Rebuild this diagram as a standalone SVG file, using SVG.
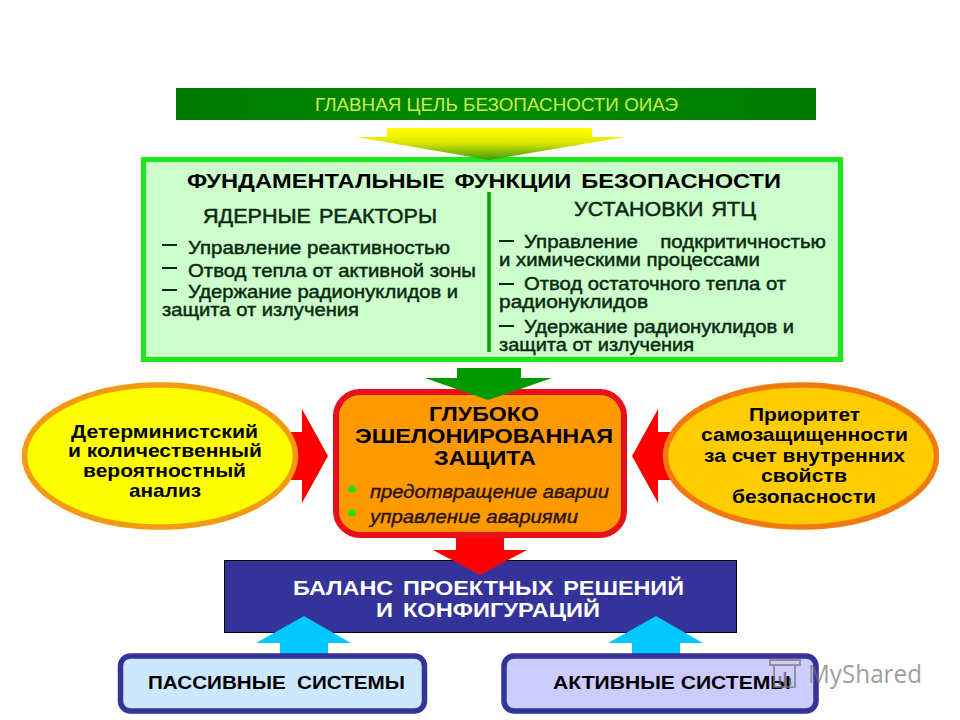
<svg xmlns="http://www.w3.org/2000/svg" width="960" height="720" viewBox="0 0 960 720">
<style>
text{font-family:"Liberation Sans",Arial,sans-serif;fill:#000}
.li{font-size:17.500px;fill:#0a2a10;stroke:#0a2a10;stroke-width:.45px}
.ov{font-size:19px;font-weight:bold}
.hd{font-size:21px;font-weight:bold;word-spacing:3px}
.sub{font-size:20.500px;fill:#0a2a10;stroke:#0a2a10;stroke-width:.5px;word-spacing:2px}
.it{font-size:18px;font-style:italic;fill:#2a1400;stroke:#2a1400;stroke-width:.4px}
.dash{stroke:#0a2a10;stroke-width:2;fill:none}
</style>
<defs>
<linearGradient id="yg" x1="0" y1="0" x2="0" y2="1"><stop offset="0" stop-color="#ffff00"/><stop offset=".45" stop-color="#e0e800"/><stop offset="1" stop-color="#3d9a10"/></linearGradient>
<linearGradient id="gg" x1="0" y1="0" x2="1" y2="0"><stop offset="0" stop-color="#007a00"/><stop offset=".5" stop-color="#008c00"/><stop offset="1" stop-color="#007a00"/></linearGradient>
</defs>
<rect width="960" height="720" fill="#fff"/>

<g id="goal">
<rect x="176" y="88" width="640" height="32" fill="url(#gg)"/>
<text x="315" y="111" font-size="18" style="fill:#c8ee50" textLength="363" lengthAdjust="spacingAndGlyphs">ГЛАВНАЯ ЦЕЛЬ БЕЗОПАСНОСТИ ОИАЭ</text>
</g>

<g id="functions">
<rect x="143.500" y="159.500" width="697" height="200" fill="#ccffcc" stroke="#1be81b" stroke-width="5"/>
<text x="187" y="188" class="hd" textLength="594" lengthAdjust="spacingAndGlyphs">ФУНДАМЕНТАЛЬНЫЕ ФУНКЦИИ БЕЗОПАСНОСТИ</text>
<text x="203" y="223" class="sub" textLength="234" lengthAdjust="spacingAndGlyphs">ЯДЕРНЫЕ РЕАКТОРЫ</text>
<text x="574" y="216" class="sub" textLength="182" lengthAdjust="spacingAndGlyphs">УСТАНОВКИ ЯТЦ</text>
<path d="M489 192V352" stroke="#00a000" stroke-width="3.500" fill="none"/>
<path class="dash" d="M162 245h15M162 268h15M162 290h15M499 241h15M499 284h15M499 326h15"/>
<text class="li" x="188" y="254" textLength="262" lengthAdjust="spacingAndGlyphs">Управление реактивностью</text>
<text class="li" x="188" y="277" textLength="288" lengthAdjust="spacingAndGlyphs">Отвод тепла от активной зоны</text>
<text class="li" x="188" y="298" textLength="270" lengthAdjust="spacingAndGlyphs">Удержание радионуклидов и</text>
<text class="li" x="162" y="316" textLength="197" lengthAdjust="spacingAndGlyphs">защита от излучения</text>
<text class="li" x="524" y="248" textLength="302" lengthAdjust="spacingAndGlyphs" style="word-spacing:14px">Управление подкритичностью</text>
<text class="li" x="499" y="266" textLength="261" lengthAdjust="spacingAndGlyphs">и химическими процессами</text>
<text class="li" x="524" y="290" textLength="262" lengthAdjust="spacingAndGlyphs">Отвод остаточного тепла от</text>
<text class="li" x="499" y="308" textLength="149" lengthAdjust="spacingAndGlyphs">радионуклидов</text>
<text class="li" x="524" y="333" textLength="270" lengthAdjust="spacingAndGlyphs">Удержание радионуклидов и</text>
<text class="li" x="499" y="351" textLength="195" lengthAdjust="spacingAndGlyphs">защита от излучения</text>
</g>

<g id="connectors">
<polygon points="387,128 592,128 592,137 625,137 489,160 356,137 387,137" fill="url(#yg)"/>
<polygon points="285,432 302,432 302,409 328,456 302,503 302,480 285,480" fill="#f00"/>
<polygon points="675,432 658,432 658,409 632,456 658,503 658,480 675,480" fill="#f00"/>
</g>

<g id="analysis">
<ellipse cx="160" cy="456" rx="135.500" ry="71" fill="#ffff00" stroke="#f29a12" stroke-width="5.500"/>
<text class="ov" x="71" y="438" textLength="187" lengthAdjust="spacingAndGlyphs">Детерминистский</text>
<text class="ov" x="68" y="457" textLength="194" lengthAdjust="spacingAndGlyphs">и количественный</text>
<text class="ov" x="83" y="477" textLength="163" lengthAdjust="spacingAndGlyphs">вероятностный</text>
<text class="ov" x="129" y="497" textLength="72" lengthAdjust="spacingAndGlyphs">анализ</text>
</g>

<g id="priority">
<ellipse cx="801" cy="456" rx="135.500" ry="71" fill="#ffcc00" stroke="#f07a10" stroke-width="5.500"/>
<text class="ov" x="749" y="421" textLength="111" lengthAdjust="spacingAndGlyphs">Приоритет</text>
<text class="ov" x="701" y="441" textLength="207" lengthAdjust="spacingAndGlyphs">самозащищенности</text>
<text class="ov" x="704" y="462" textLength="201" lengthAdjust="spacingAndGlyphs">за счет внутренних</text>
<text class="ov" x="761" y="482" textLength="86" lengthAdjust="spacingAndGlyphs">свойств</text>
<text class="ov" x="732" y="503" textLength="144" lengthAdjust="spacingAndGlyphs">безопасности</text>
</g>

<g id="defense">
<rect x="336" y="392" width="288" height="143" rx="24" fill="#ff9900" stroke="#e8101a" stroke-width="6"/>
<polygon points="457,368 521,368 521,378 552,378 488,400 425,378 457,378" fill="#009900"/>
<text class="hd" x="429" y="421" textLength="110" lengthAdjust="spacingAndGlyphs">ГЛУБОКО</text>
<text class="hd" x="355" y="443" textLength="258" lengthAdjust="spacingAndGlyphs">ЭШЕЛОНИРОВАННАЯ</text>
<text class="hd" x="434" y="465" textLength="102" lengthAdjust="spacingAndGlyphs">ЗАЩИТА</text>
<rect x="348.500" y="485.500" width="7" height="7" rx="2" fill="#22e010"/>
<rect x="348.500" y="509.500" width="7" height="7" rx="2" fill="#22e010"/>
<text class="it" x="370" y="498" textLength="239" lengthAdjust="spacingAndGlyphs">предотвращение аварии</text>
<text class="it" x="370" y="523" textLength="208" lengthAdjust="spacingAndGlyphs">управление авариями</text>
</g>

<g id="balance">
<rect x="224.500" y="560.500" width="512" height="72" fill="#333399" stroke="#000" stroke-width="1"/>
<polygon points="456,538 504,538 504,550 527,550 480,575 433,550 456,550" fill="#f00"/>
<text class="hd" x="293" y="595" style="fill:#fff" textLength="391" lengthAdjust="spacingAndGlyphs">БАЛАНС ПРОЕКТНЫХ РЕШЕНИЙ</text>
<text class="hd" x="376" y="617" style="fill:#fff" textLength="224" lengthAdjust="spacingAndGlyphs">И КОНФИГУРАЦИЙ</text>
<polygon points="304,616 351,643 328,643 328,656 280,656 280,643 256,643" fill="#00c8ff"/>
<polygon points="656,616 703,643 680,643 680,656 632,656 632,643 608,643" fill="#00c8ff"/>
</g>

<g id="passive">
<rect x="120.500" y="656" width="304" height="55" rx="10" fill="#cce8ff" stroke="#333399" stroke-width="5.500"/>
<text class="ov" x="148" y="689" style="word-spacing:5px" textLength="257" lengthAdjust="spacingAndGlyphs">ПАССИВНЫЕ СИСТЕМЫ</text>
</g>

<g id="active">
<rect x="504" y="656" width="312" height="55" rx="10" fill="#ccccff" stroke="#333399" stroke-width="5.500"/>
<text class="ov" x="553" y="689" textLength="238" lengthAdjust="spacingAndGlyphs">АКТИВНЫЕ СИСТЕМЫ</text>
</g>

<g id="watermark" opacity=".7">
<path d="M770 660h30v5h-5v22h-21v-22h-4zM774 665h21" fill="none" stroke="#777" stroke-width="2"/>
<path d="M780 676v9M785 672v14M790 678v7" stroke="#555" stroke-width="2.500" fill="none"/>
<text x="808" y="683" font-size="25" style="fill:#777;font-family:'Open Sans','Liberation Sans',sans-serif" textLength="114" lengthAdjust="spacingAndGlyphs">MyShared</text>
</g>
</svg>
